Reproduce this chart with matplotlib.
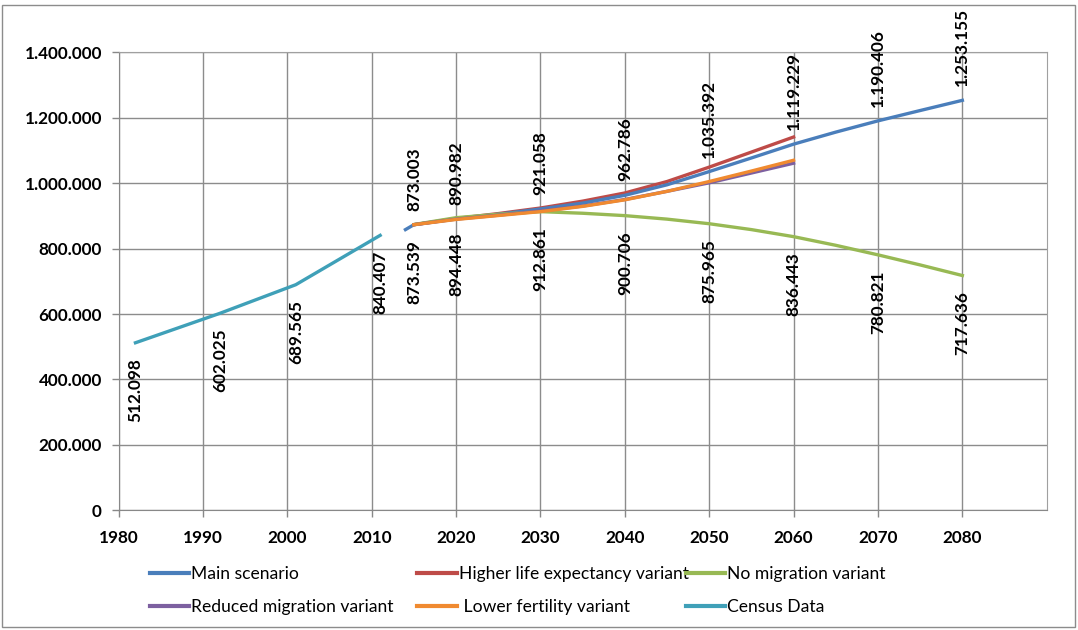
import numpy as np
import matplotlib
matplotlib.use("Agg")
import matplotlib.pyplot as plt
from matplotlib.ticker import FuncFormatter
from matplotlib.patches import Rectangle

# ------------------------------------------------------------------ #
#  Data                                         #
# ------------------------------------------------------------------ #
census_years = [1982, 1992, 2001, 2011]
census_vals = [512098, 602025, 689565, 840407]

main_years = [2014, 2015, 2020, 2025, 2030, 2035, 2040, 2045, 2050, 2055, 2060, 2065, 2070, 2075, 2080]
main_vals = [858000, 873003, 890982, 905000, 921058, 939000, 962786, 995000, 1035392, 1077000,
             1119229, 1156000, 1190406, 1222000, 1253155]

var_years = [2015, 2020, 2025, 2030, 2035, 2040, 2045, 2050, 2055, 2060]
life_vals = [873003, 892000, 907000, 924000, 945000, 970000, 1005000, 1049000, 1095000, 1141000]
reduced_vals = [873003, 890000, 902000, 915000, 930000, 950000, 975000, 1001000, 1031000, 1061000]
fertility_vals = [873003, 889000, 901000, 913000, 929000, 949000, 975000, 1005000, 1037000, 1070000]

nomig_years = [2015, 2020, 2025, 2030, 2035, 2040, 2045, 2050, 2055, 2060, 2065, 2070, 2075, 2080]
nomig_vals = [873539, 894448, 905000, 912861, 908000, 900706, 890000, 875965, 858000, 836443,
              810000, 780821, 750000, 717636]

# labelled points
main_lab_years = [2015, 2020, 2030, 2040, 2050, 2060, 2070, 2080]
main_lab_vals = [873003, 890982, 921058, 962786, 1035392, 1119229, 1190406, 1253155]
nomig_lab_years = [2015, 2020, 2030, 2040, 2050, 2060, 2070, 2080]
nomig_lab_vals = [873539, 894448, 912861, 900706, 875965, 836443, 780821, 717636]

C_MAIN = '#4a7ebb'
C_LIFE = '#be4b48'
C_NOMIG = '#98b954'
C_RED = '#7d60a0'
C_FERT = '#f08a30'
C_CENSUS = '#3fa0b8'

plt.rcParams['font.family'] = ['Lato', 'DejaVu Sans']


def fmt(v):
    return f"{v:,.0f}".replace(",", ".")


fig = plt.figure(figsize=(10.78, 6.3), dpi=100)
ax = fig.add_axes([0.110, 0.190, 0.861, 0.727])

lw = 2.4
h_main, = ax.plot(main_years, main_vals, color=C_MAIN, lw=lw, label='Main scenario', zorder=3)
h_life, = ax.plot(var_years, life_vals, color=C_LIFE, lw=lw, label='Higher life expectancy variant', zorder=2.9)
h_nomig, = ax.plot(nomig_years, nomig_vals, color=C_NOMIG, lw=lw, label='No migration variant', zorder=3)
h_red, = ax.plot(var_years, reduced_vals, color=C_RED, lw=lw, label='Reduced migration variant', zorder=3)
h_fert, = ax.plot(var_years, fertility_vals, color=C_FERT, lw=lw, label=' Lower fertility variant', zorder=3)
h_cens, = ax.plot(census_years, census_vals, color=C_CENSUS, lw=lw, label='Census Data', zorder=3)

# data labels
LAB = dict(rotation=90, ha='center', fontsize=12.3, fontweight='bold', textcoords='offset points')
for x, v in zip(main_lab_years, main_lab_vals):
    ax.annotate(fmt(v), (x, v), xytext=(0, 10), va='bottom', **LAB)
for x, v in zip(nomig_lab_years, nomig_lab_vals):
    ax.annotate(fmt(v), (x, v), xytext=(0, -11), va='top', **LAB)
for x, v in zip(census_years, census_vals):
    ax.annotate(fmt(v), (x, v), xytext=(0, -11), va='top', **LAB)

# axes
ax.set_xlim(1980, 2090)
ax.set_ylim(0, 1400000)
ax.set_xticks(np.arange(1980, 2081, 10))
ax.set_yticks(np.arange(0, 1400001, 200000))
ax.yaxis.set_major_formatter(FuncFormatter(lambda v, p: fmt(v)))
ax.tick_params(axis='both', labelsize=12.3, length=5, color='#888888', width=1)
for lab in ax.get_xticklabels() + ax.get_yticklabels():
    lab.set_fontweight('bold')
ax.tick_params(axis='x', pad=9)
ax.tick_params(axis='y', pad=7)

ax.grid(True, color='#8c8c8c', lw=1)
ax.set_axisbelow(True)
for s in ['top', 'right']:
    ax.spines[s].set_color('#a0a0a0')
for s in ['left', 'bottom']:
    ax.spines[s].set_color('#888888')

# legend: three equal-width columns, like the spreadsheet legend
columns = [(h_main, h_red), (h_life, h_fert), (h_nomig, h_cens)]
col_x = [0.139, 0.387, 0.636]
for hs, x0 in zip(columns, col_x):
    leg = fig.legend(handles=list(hs), labels=[h.get_label() for h in hs],
                     loc='center left', bbox_to_anchor=(x0, 0.0625), frameon=False,
                     fontsize=12.6, handlelength=2.25, handletextpad=0.12,
                     labelspacing=0.95, borderaxespad=0, borderpad=0)
    for line in leg.get_lines():
        line.set_linewidth(3)

# outer chart border
fig.patches.append(Rectangle((0.0015, 0.004), 0.996, 0.988, transform=fig.transFigure,
                             fill=False, edgecolor='#8c8c8c', lw=1))

fig.savefig('out.png', dpi=100)
